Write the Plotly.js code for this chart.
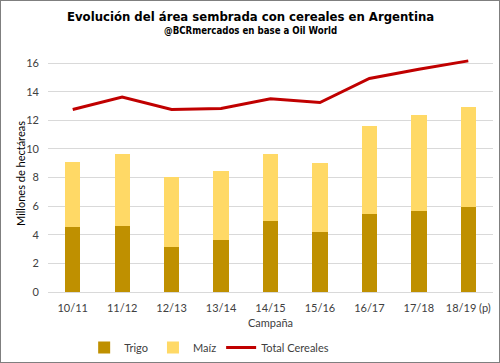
<!DOCTYPE html>
<html><head><meta charset="utf-8">
<script src="https://cdn.plot.ly/plotly-3.0.1.min.js"></script>
<style>html,body{margin:0;padding:0;background:#fff}#c{width:498px;height:361px;border:1px solid #7f7f7f}</style>
</head><body><div id="c"></div>
<script>
const campaigns = ["10/11","11/12","12/13","13/14","14/15","15/16","16/17","17/18","18/19 (p)"];
const trigo = [4.56, 4.61, 3.17, 3.65, 4.98, 4.19, 5.42, 5.68, 5.91];
const maiz  = [4.54, 5.01, 4.89, 4.78, 4.68, 4.85, 6.20, 6.73, 7.02];
const totalCereales = [12.76, 13.63, 12.76, 12.83, 13.51, 13.25, 14.93, 15.58, 16.16];
const yTicks = [0,2,4,6,8,10,12,14,16];

const font = "Lato, 'Open Sans', sans-serif";
const titleFont = "'DejaVu Sans Condensed', sans-serif";
const data = [
  {type:'bar', name:'Trigo', x:campaigns, y:trigo, marker:{color:'#bf9000'}},
  {type:'bar', name:'Maíz', x:campaigns, y:maiz, marker:{color:'#ffd966'}},
  {type:'scatter', mode:'lines', name:'Total Cereales', x:campaigns, y:totalCereales,
   line:{color:'#c00000', width:3}}
];
const layout = {
  width:498, height:361,
  margin:{l:47, r:6, t:55, b:70},
  barmode:'stack', bargap:0.69,
  paper_bgcolor:'#fff', plot_bgcolor:'#fff',
  font:{family:font, size:11, color:'#404040'},
  showlegend:true,
  legend:{orientation:'h', x:0.418, xref:'container', xanchor:'center', y:0.04, yref:'container', yanchor:'middle',
          font:{family:font, size:11, color:'#404040'}, traceorder:'normal', itemwidth:30},
  xaxis:{type:'category', showgrid:false, showline:true, linecolor:'#d9d9d9', ticks:'', automargin:false,
         ticklabelstandoff:6,
         tickfont:{family:font, size:11, color:'#404040'},
         title:{text:'Campaña', font:{family:font, size:11, color:'#404040'}, standoff:6}},
  yaxis:{range:[0,16.5], tickvals:yTicks, showgrid:true, gridcolor:'#d9d9d9', zeroline:false, automargin:false,
         ticklabelstandoff:8,
         showline:false, ticks:'', tickfont:{family:font, size:11, color:'#404040'}},
  annotations:[
    {text:'<b>Evolución del área sembrada con cereales en Argentina</b>', xref:'paper', yref:'paper',
     x:0.456, xanchor:'center', y:1, yanchor:'bottom', yshift:30, showarrow:false,
     font:{family:titleFont, size:13, color:'#000'}},
    {text:'<b>@BCRmercados en base a Oil World</b>', xref:'paper', yref:'paper',
     x:0.456, xanchor:'center', y:1, yanchor:'bottom', yshift:18, showarrow:false,
     font:{family:titleFont, size:9.6, color:'#000'}},
    {text:'Millones de hectáreas', xref:'paper', yref:'paper', x:0, xshift:-28, y:0.5,
     xanchor:'center', yanchor:'middle', textangle:-90, showarrow:false,
     font:{family:font, size:11, color:'#000'}}
  ]
};
Plotly.newPlot('c', data, layout, {displayModeBar:false});
</script></body></html>
